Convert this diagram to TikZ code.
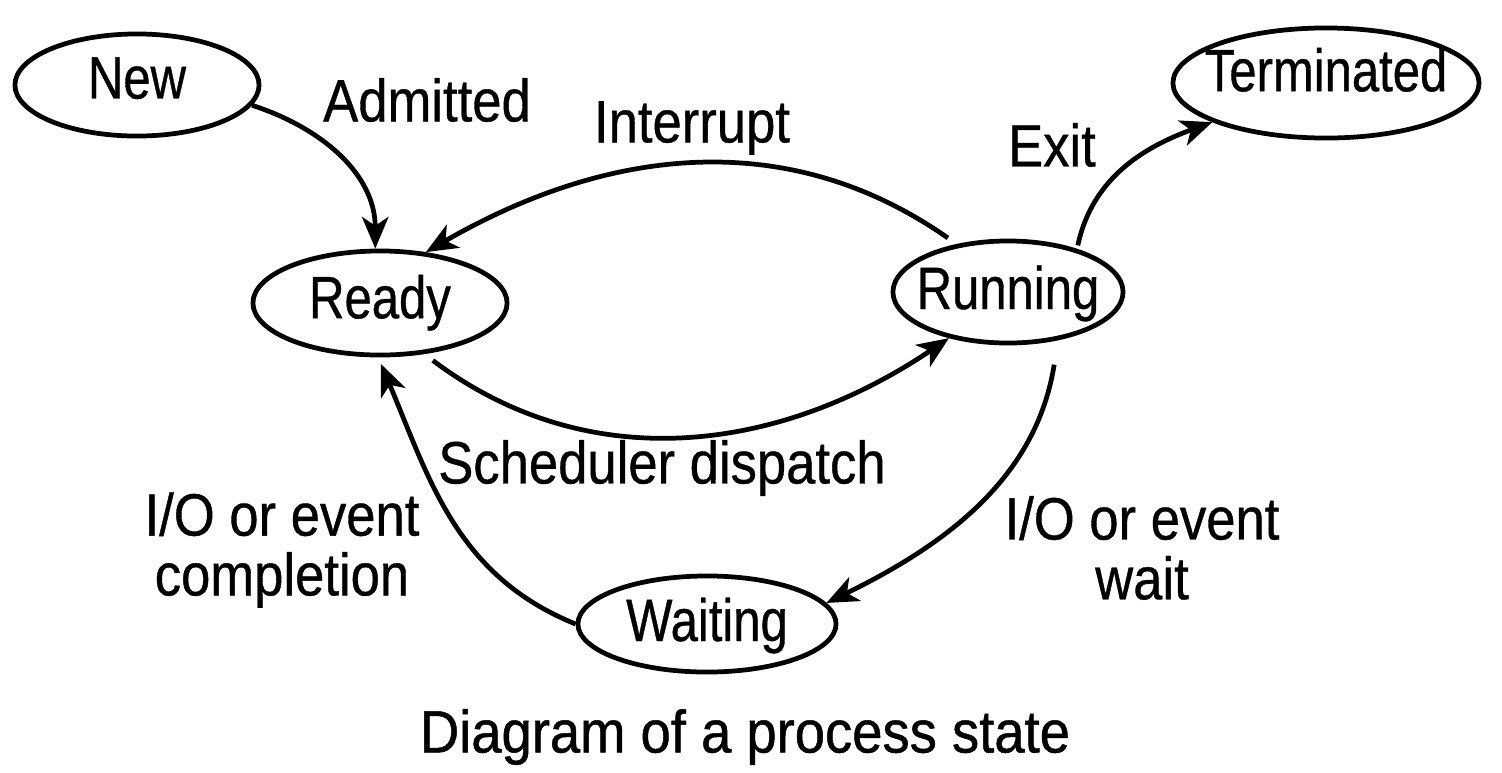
\documentclass[tikz,border=0pt]{standalone}
\usepackage{fontspec}
\setmainfont{Liberation Sans}[FakeStretch=0.88,FakeBold=0.6]
\newfontfamily\statefont{Liberation Sans}[FakeStretch=0.82,FakeBold=0.6]
\newfontfamily\capfont{Liberation Sans}[FakeStretch=0.91,FakeBold=0.8]
\usetikzlibrary{shapes.geometric,arrows.meta}
\newcommand\ctext[2][0pt]{\raisebox{#1}{\makebox[0pt]{#2}}}
\begin{document}
\begin{tikzpicture}[x=0.01cm,y=0.01cm,
  state/.style={ellipse, draw, line width=1.35pt, inner sep=0pt,
    text height=0.41cm, text depth=0pt,
    font=\statefont\fontsize{17}{20}\selectfont},
  lbl/.style={font=\fontsize{17}{17}\selectfont, inner sep=0pt, align=center},
  conn/.style={line width=1.35pt, -{Stealth[length=9pt,width=7.5pt,inset=2.5pt]}}]
\useasboundingbox (0,0) rectangle (1502,-772);
\fill[white] (0,0) rectangle (1502,-772);
% states
\node[state, minimum width=2.44cm, minimum height=1.02cm] (new) at (137,-85) {\ctext[2pt]{New}};
\node[state, minimum width=3.06cm, minimum height=1.10cm] (term) at (1326,-83) {\ctext[3.5pt]{Terminated}};
\node[state, minimum width=2.54cm, minimum height=1.04cm] (ready) at (380,-303) {\ctext[1.5pt]{Ready}};
\node[state, minimum width=2.30cm, minimum height=1.02cm] (run) at (1008,-292) {\ctext[1pt]{Running}};
\node[state, minimum width=2.58cm, minimum height=0.96cm] (wait) at (707,-624) {\ctext[1pt]{Waiting}};
% labels
\node[lbl] (ladm) at (427,-100) {Admitted};
\node[lbl] (lint) at (692,-128) {Interrupt};
\node[lbl] (lexit) at (1052,-145) {Exit};
\node[lbl] (lsch) at (662,-468) {Scheduler dispatch};
\node[lbl] (lcomp) at (282,-550) {I/O or event\\completion};
\node[lbl] (lwait) at (1142,-548) {I/O or event\\wait};
\node[lbl, font=\capfont\fontsize{17}{17}\selectfont] (cap) at (745,-737) {Diagram of a process state};
% connectors
\draw[conn] (new.-10) to[out=-18,in=90] (ready.95);
\draw[conn, shorten <=3pt] (run.137) to[out=145,in=30] (ready.48);
\draw[conn, shorten <=3pt] (ready.-49) to[out=-37,in=-146] (run.-142);
\draw[conn, shorten <=1pt] (run.32) to[out=78,in=-160] (term.-161);
\draw[conn, shorten <=7pt] (run.-44) to[out=-99,in=26] (wait.10);
\draw[conn, shorten >=2pt] (wait.180) to[out=158,in=-67] (ready.-92);
\end{tikzpicture}
\end{document}
